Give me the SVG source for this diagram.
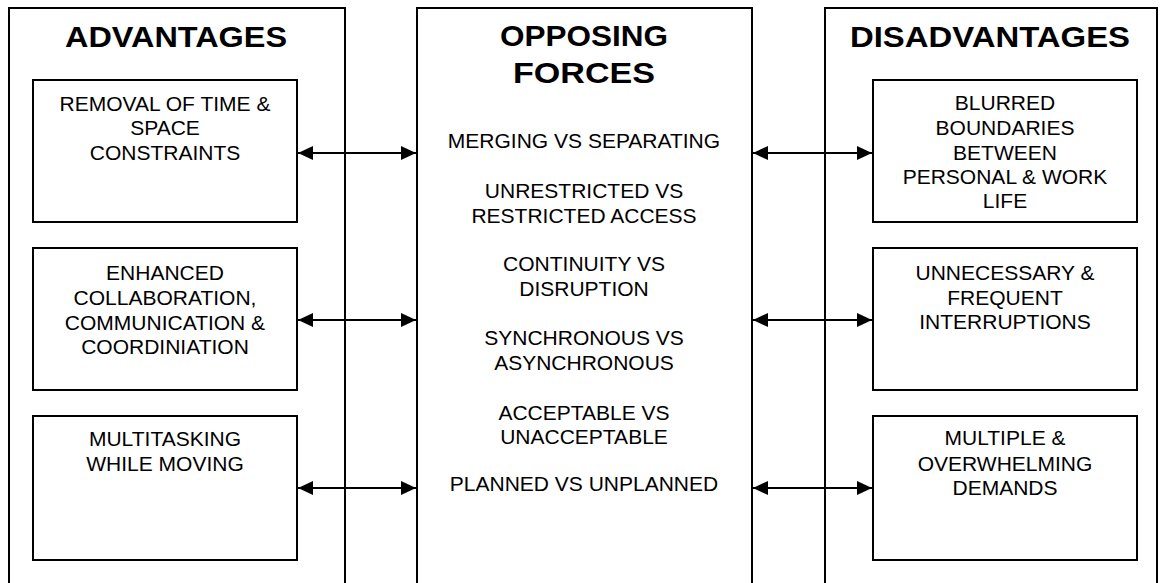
<svg xmlns="http://www.w3.org/2000/svg" width="1162" height="583" viewBox="0 0 1162 583">
<style>
.box{fill:#fff;stroke:#000;stroke-width:2}
.title{font-family:"Liberation Sans",Arial,sans-serif;font-weight:bold;font-size:30px;text-anchor:middle;fill:#000}
.t{font-family:"Liberation Sans",Arial,sans-serif;font-size:21px;text-anchor:middle;fill:#000}
.conn{stroke:#000;stroke-width:2;fill:none;marker-start:url(#ah);marker-end:url(#ah)}
</style>
<defs>
<marker id="ah" markerUnits="userSpaceOnUse" viewBox="0 0 15 14" refX="15" refY="7" markerWidth="15" markerHeight="14" orient="auto-start-reverse">
<path d="M0,0 L15,7 L0,14 Z" fill="#000"/>
</marker>
</defs>
<rect width="1162" height="583" fill="#fff"/>
<g id="advantages">
<rect class="box" x="9" y="8" width="336" height="600"/>
<text class="title" x="176" y="47" textLength="222" lengthAdjust="spacingAndGlyphs">ADVANTAGES</text>
</g>
<g id="opposing">
<rect class="box" x="417" y="8" width="335" height="600"/>
<text class="title" x="584" y="46" textLength="168" lengthAdjust="spacingAndGlyphs">OPPOSING</text>
<text class="title" x="584" y="83" textLength="142" lengthAdjust="spacingAndGlyphs">FORCES</text>
<text class="t" x="584" y="148">MERGING VS SEPARATING</text>
<text class="t" x="584" y="198">UNRESTRICTED VS</text>
<text class="t" x="584" y="223">RESTRICTED ACCESS</text>
<text class="t" x="584" y="271">CONTINUITY VS</text>
<text class="t" x="584" y="296">DISRUPTION</text>
<text class="t" x="584" y="345">SYNCHRONOUS VS</text>
<text class="t" x="584" y="370">ASYNCHRONOUS</text>
<text class="t" x="584" y="420">ACCEPTABLE VS</text>
<text class="t" x="584" y="444">UNACCEPTABLE</text>
<text class="t" x="584" y="491">PLANNED VS UNPLANNED</text>
</g>
<g id="disadvantages">
<rect class="box" x="825" y="8" width="332" height="600"/>
<text class="title" x="990" y="47" textLength="280" lengthAdjust="spacingAndGlyphs">DISADVANTAGES</text>
</g>
<g id="adv1">
<rect class="box" x="33" y="80" width="264" height="142"/>
<text class="t" x="165" y="111">REMOVAL OF TIME &amp;</text>
<text class="t" x="165" y="135">SPACE</text>
<text class="t" x="165" y="160">CONSTRAINTS</text>
</g>
<g id="adv2">
<rect class="box" x="33" y="248" width="264" height="142"/>
<text class="t" x="165" y="280">ENHANCED</text>
<text class="t" x="165" y="305">COLLABORATION,</text>
<text class="t" x="165" y="330">COMMUNICATION &amp;</text>
<text class="t" x="165" y="354">COORDINIATION</text>
</g>
<g id="adv3">
<rect class="box" x="33" y="416" width="264" height="144"/>
<text class="t" x="165" y="446">MULTITASKING</text>
<text class="t" x="165" y="471">WHILE MOVING</text>
</g>
<g id="dis1">
<rect class="box" x="873" y="80" width="264" height="142"/>
<text class="t" x="1005" y="110">BLURRED</text>
<text class="t" x="1005" y="135">BOUNDARIES</text>
<text class="t" x="1005" y="160">BETWEEN</text>
<text class="t" x="1005" y="184">PERSONAL &amp; WORK</text>
<text class="t" x="1005" y="208">LIFE</text>
</g>
<g id="dis2">
<rect class="box" x="873" y="248" width="264" height="142"/>
<text class="t" x="1005" y="280">UNNECESSARY &amp;</text>
<text class="t" x="1005" y="305">FREQUENT</text>
<text class="t" x="1005" y="329">INTERRUPTIONS</text>
</g>
<g id="dis3">
<rect class="box" x="873" y="416" width="264" height="144"/>
<text class="t" x="1005" y="445">MULTIPLE &amp;</text>
<text class="t" x="1005" y="471">OVERWHELMING</text>
<text class="t" x="1005" y="495">DEMANDS</text>
</g>
<g id="connectors">
<line class="conn" x1="298" y1="153" x2="416" y2="153"/>
<line class="conn" x1="753" y1="153" x2="872" y2="153"/>
<line class="conn" x1="298" y1="320" x2="416" y2="320"/>
<line class="conn" x1="753" y1="320" x2="872" y2="320"/>
<line class="conn" x1="298" y1="488" x2="416" y2="488"/>
<line class="conn" x1="753" y1="488" x2="872" y2="488"/>
</g>
</svg>
